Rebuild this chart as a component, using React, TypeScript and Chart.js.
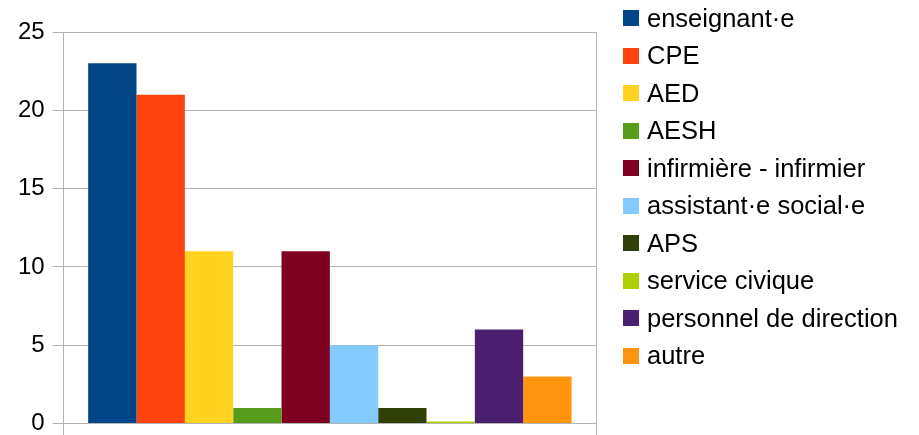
import React, { useEffect, useRef } from "react";
import { Chart, registerables } from "chart.js";

Chart.register(...registerables);

const categories: string[] = [""];
const seriesNames: string[] = [
  "enseignant·e",
  "CPE",
  "AED",
  "AESH",
  "infirmière - infirmier",
  "assistant·e social·e",
  "APS",
  "service civique",
  "personnel de direction",
  "autre",
];
const seriesValues: number[] = [23, 21, 11, 1, 11, 5, 1, 0, 6, 3];
const seriesColors: string[] = [
  "#004586",
  "#ff420e",
  "#ffd320",
  "#579d1c",
  "#7e0021",
  "#83caff",
  "#314004",
  "#aecf00",
  "#4b1f6f",
  "#ff950e",
];
const yTicks: number[] = [0, 5, 10, 15, 20, 25];

const FONT = "'Liberation Sans', Arial, sans-serif";

export default function App() {
  const canvasRef = useRef<HTMLCanvasElement | null>(null);

  useEffect(() => {
    document.body.style.margin = "0";
    const ctx = canvasRef.current;
    if (!ctx) return;
    const chart = new Chart(ctx, {
      type: "bar",
      data: {
        labels: categories,
        datasets: seriesNames.map((name, i) => ({
          label: name,
          data: [seriesValues[i]],
          backgroundColor: seriesColors[i],
          borderWidth: 0,
          minBarLength: seriesValues[i] === 0 ? 2 : 0,
          barPercentage: 1,
          categoryPercentage: 0.908,
        })),
      },
      options: {
        responsive: false,
        animation: false,
        devicePixelRatio: 1,
        layout: { padding: { left: 10, right: 323, top: 32, bottom: 0 } },
        plugins: {
          legend: { display: false },
          tooltip: { enabled: false },
        },
        scales: {
          x: {
            offset: true,
            grid: {
              display: true,
              offset: true,
              color: "#b3b3b3",
              tickLength: 13,
              drawTicks: true,
            },
            border: { display: true, color: "#b3b3b3" },
            ticks: { display: false },
          },
          y: {
            min: yTicks[0],
            max: yTicks[yTicks.length - 1],
            afterBuildTicks: (scale: any) => {
              scale.ticks = yTicks.map((v) => ({ value: v }));
            },
            grid: { color: "#b3b3b3", tickLength: 11 },
            border: { display: true, color: "#b3b3b3" },
            ticks: {
              padding: 8,
              color: "#000000",
              font: { family: FONT, size: 24 },
            },
          },
        },
      },
    });
    return () => chart.destroy();
  }, []);

  return (
    <div style={{ position: "relative", width: 919, height: 435, overflow: "hidden" }}>
      <canvas ref={canvasRef} width={919} height={446} style={{ display: "block" }} />
      <div style={{ position: "absolute", left: 623, top: 0 }}>
        {seriesNames.map((name, i) => (
          <div
            key={name}
            style={{
              position: "absolute",
              left: 0,
              top: 18 + 37.5 * i - 15,
              height: 30,
              display: "flex",
              alignItems: "center",
              whiteSpace: "nowrap",
              fontFamily: FONT,
              fontSize: 25.5,
              color: "#000",
            }}
          >
            <span
              style={{
                display: "inline-block",
                width: 16,
                height: 16,
                background: seriesColors[i],
                marginRight: 8,
              }}
            />
            <span>{name}</span>
          </div>
        ))}
      </div>
    </div>
  );
}
